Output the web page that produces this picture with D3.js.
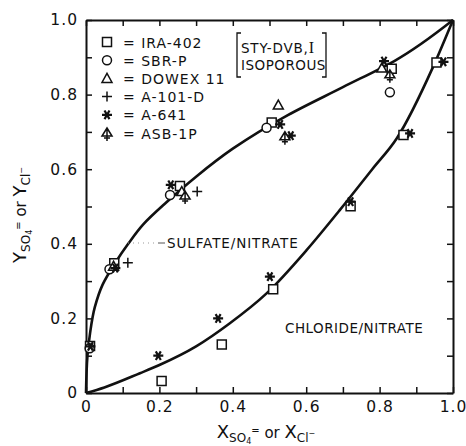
<!DOCTYPE html>
<html>
<head>
<meta charset="utf-8">
<script src="https://cdn.jsdelivr.net/npm/d3@7"></script>
<style>
  body { margin: 0; background: #fff; }
  text { font-family: "DejaVu Sans", sans-serif; fill: #111; }
</style>
</head>
<body>
<div id="chart"></div>
<script>
// resin data, [x, y]
const ira402 = [[0.011, 0.126], [0.077, 0.348], [0.256, 0.555], [0.506, 0.725], [0.833, 0.869],
                [0.206, 0.032], [0.37, 0.13], [0.51, 0.278], [0.721, 0.501], [0.865, 0.692], [0.955, 0.886]]
const sbrP = [[0.01, 0.12], [0.064, 0.332], [0.229, 0.531], [0.492, 0.711], [0.828, 0.806]]
const dowex11 = [[0.075, 0.34], [0.261, 0.54], [0.524, 0.772], [0.806, 0.871]]
const a101d = [[0.114, 0.349], [0.303, 0.54]]
const a641 = [[0.012, 0.125], [0.08, 0.335], [0.231, 0.558], [0.529, 0.72], [0.558, 0.69], [0.812, 0.89],
              [0.197, 0.1], [0.36, 0.2], [0.501, 0.312], [0.721, 0.513], [0.883, 0.696], [0.974, 0.888]]
const asb1p = [[0.27, 0.528], [0.542, 0.687], [0.828, 0.853]]

// fitted curves
const sulfateCurve = [[0, 0], [0.004, 0.1], [0.011, 0.16], [0.024, 0.23], [0.045, 0.29], [0.079, 0.348],
                      [0.115, 0.4], [0.156, 0.452], [0.22, 0.512], [0.3, 0.58], [0.4, 0.655],
                      [0.55, 0.745], [0.7, 0.82], [0.84, 0.89], [1, 1]]
const chlorideCurve = [[0, 0], [0.05, 0.015], [0.147, 0.053], [0.2, 0.075], [0.3, 0.125], [0.392, 0.187],
                       [0.492, 0.267], [0.601, 0.383], [0.692, 0.491], [0.78, 0.6], [0.847, 0.683],
                       [0.946, 0.875], [1, 1]]

const legendNames = ["IRA-402", "SBR-P", "DOWEX 11", "A-101-D", "A-641", "ASB-1P"]
const majorTicks = [0, 0.2, 0.4, 0.6, 0.8, 1.0]
const allTicks = [0, 0.1, 0.2, 0.3, 0.4, 0.5, 0.6, 0.7, 0.8, 0.9, 1.0]

// ----------------------------------------------------------
const width = 466
const height = 446
const margin = { left: 86, right: 13, top: 20, bottom: 53 }

const svg = d3.select("#chart").append("svg").attr("width", width).attr("height", height)

const x = d3.scaleLinear().domain([0, 1]).range([margin.left, width - margin.right])
const y = d3.scaleLinear().domain([0, 1]).range([height - margin.bottom, margin.top])

const fmt = d => majorTicks.includes(d) ? (d === 0 ? "0" : d.toFixed(1)) : ""

// axes, ticks pointing inward
const axisStyle = g => {
    g.select(".domain").attr("stroke", "#111").attr("stroke-width", 2)
    g.selectAll(".tick line").attr("stroke", "#111").attr("stroke-width", 1.5)
    g.selectAll("text").attr("font-size", 15.5).attr("letter-spacing", 1)
        .style("font-family", "'DejaVu Sans', sans-serif").attr("fill", "#111")
}
svg.append("g").attr("transform", `translate(0, ${y(0)})`)
    .call(d3.axisBottom(x).tickValues(allTicks).tickFormat(fmt).tickSizeInner(-6).tickSizeOuter(0).tickPadding(8))
    .call(axisStyle)
svg.append("g").attr("transform", `translate(${x(0)}, 0)`)
    .call(d3.axisLeft(y).tickValues(allTicks).tickFormat(fmt).tickSizeInner(-6).tickSizeOuter(0).tickPadding(8))
    .call(axisStyle)
svg.append("g").attr("transform", `translate(0, ${y(1)})`)
    .call(d3.axisTop(x).tickValues(allTicks).tickFormat("").tickSizeInner(-6).tickSizeOuter(0))
    .call(axisStyle)
svg.append("g").attr("transform", `translate(${x(1)}, 0)`)
    .call(d3.axisRight(y).tickValues(allTicks).tickFormat("").tickSizeInner(-6).tickSizeOuter(0))
    .call(axisStyle)

// curves
const lineY = d3.line().x(d => x(d[0])).y(d => y(d[1])).curve(d3.curveMonotoneY)
const lineX = d3.line().x(d => x(d[0])).y(d => y(d[1])).curve(d3.curveMonotoneX)
svg.append("path").datum(sulfateCurve).attr("d", lineY)
    .attr("fill", "none").attr("stroke", "#111").attr("stroke-width", 2.6)
svg.append("path").datum(chlorideCurve).attr("d", lineX)
    .attr("fill", "none").attr("stroke", "#111").attr("stroke-width", 2.6)

// markers
const markers = {
    square: "M-4.5,-4.5h9v9h-9z",
    circle: "M4.5,0A4.5,4.5 0 1,1 -4.5,0A4.5,4.5 0 1,1 4.5,0z",
    triangle: "M0,-5L5,4L-5,4z",
    plus: "M-5,0H5M0,-5V5",
    star: "M-5,0H5M-2.5,-4.3L2.5,4.3M2.5,-4.3L-2.5,4.3",
    asb: "M0,-5L5,3L-5,3zM0,-5V8M-3,5H3"
}
const series = [
    { data: ira402, shape: "square", fill: "#fff" },
    { data: sbrP, shape: "circle", fill: "#fff" },
    { data: dowex11, shape: "triangle", fill: "#fff" },
    { data: a101d, shape: "plus", fill: "none" },
    { data: a641, shape: "star", fill: "none" },
    { data: asb1p, shape: "asb", fill: "#fff" }
]
series.forEach(s => {
    svg.append("g").selectAll("path").data(s.data).enter().append("path")
        .attr("transform", d => `translate(${x(d[0])}, ${y(d[1])})`)
        .attr("d", markers[s.shape])
        .attr("fill", s.fill).attr("stroke", "#111")
        .attr("stroke-width", s.shape === "star" ? 2.2 : 1.5)
})

// legend
const legend = svg.append("g").attr("transform", "translate(107, 42)")
series.forEach((s, i) => {
    const row = legend.append("g").attr("transform", `translate(0, ${i * 18.2})`)
    row.append("path").attr("d", markers[s.shape]).attr("fill", s.fill)
        .attr("stroke", "#111").attr("stroke-width", s.shape === "star" ? 2.2 : 1.5)
    row.append("text").attr("x", 16).attr("y", 5.5).attr("font-size", 14).attr("letter-spacing", 1)
        .text("= " + legendNames[i])
})

// bracketed note
const note = svg.append("g")
note.append("path").attr("d", "M241,33H237V77H241M322,33H326V77H322")
    .attr("fill", "none").attr("stroke", "#111").attr("stroke-width", 1.3)
note.append("text").attr("x", 241).attr("y", 53).attr("font-size", 13.5).attr("letter-spacing", 0.8).text("STY-DVB,")
    .append("tspan").attr("font-family", "Liberation Serif, serif").attr("font-size", 16).text("I")
note.append("text").attr("x", 241).attr("y", 70).attr("font-size", 13.5).attr("letter-spacing", 0.5).text("ISOPOROUS")

// curve labels
svg.append("line").attr("x1", 128).attr("x2", 158).attr("y1", 243).attr("y2", 243)
    .attr("stroke", "#999").attr("stroke-width", 1).attr("stroke-dasharray", "1,4")
svg.append("line").attr("x1", 158).attr("x2", 165).attr("y1", 243).attr("y2", 243)
    .attr("stroke", "#555").attr("stroke-width", 1)
svg.append("text").attr("x", 167).attr("y", 248).attr("font-size", 13.5).attr("letter-spacing", 0.9)
    .text("SULFATE/NITRATE")
svg.append("text").attr("x", 285).attr("y", 333).attr("font-size", 13.5).attr("letter-spacing", 0.5)
    .text("CHLORIDE/NITRATE")

// axis titles
const xTitle = svg.append("text").attr("x", 266).attr("y", 438).attr("text-anchor", "middle").attr("font-size", 18)
xTitle.append("tspan").text("X")
xTitle.append("tspan").attr("font-size", 12).attr("dy", 4).text("SO")
xTitle.append("tspan").attr("font-size", 8).attr("dy", 2).text("4")
xTitle.append("tspan").attr("font-size", 10).attr("dy", -10).text("=")
xTitle.append("tspan").attr("font-size", 15).attr("dy", 4).text("  or  ")
xTitle.append("tspan").text("X")
xTitle.append("tspan").attr("font-size", 12).attr("dy", 4).text("Cl")
xTitle.append("tspan").attr("font-size", 8).attr("dy", -6).text("−")

const yTitle = svg.append("text").attr("transform", "translate(26, 215) rotate(-90)")
    .attr("text-anchor", "middle").attr("font-size", 18)
yTitle.append("tspan").text("Y")
yTitle.append("tspan").attr("font-size", 12).attr("dy", 4).text("SO")
yTitle.append("tspan").attr("font-size", 8).attr("dy", 2).text("4")
yTitle.append("tspan").attr("font-size", 10).attr("dy", -10).text("=")
yTitle.append("tspan").attr("font-size", 15).attr("dy", 4).text("  or  ")
yTitle.append("tspan").text("Y")
yTitle.append("tspan").attr("font-size", 12).attr("dy", 4).text("Cl")
yTitle.append("tspan").attr("font-size", 8).attr("dy", -6).text("−")
</script>
</body>
</html>
